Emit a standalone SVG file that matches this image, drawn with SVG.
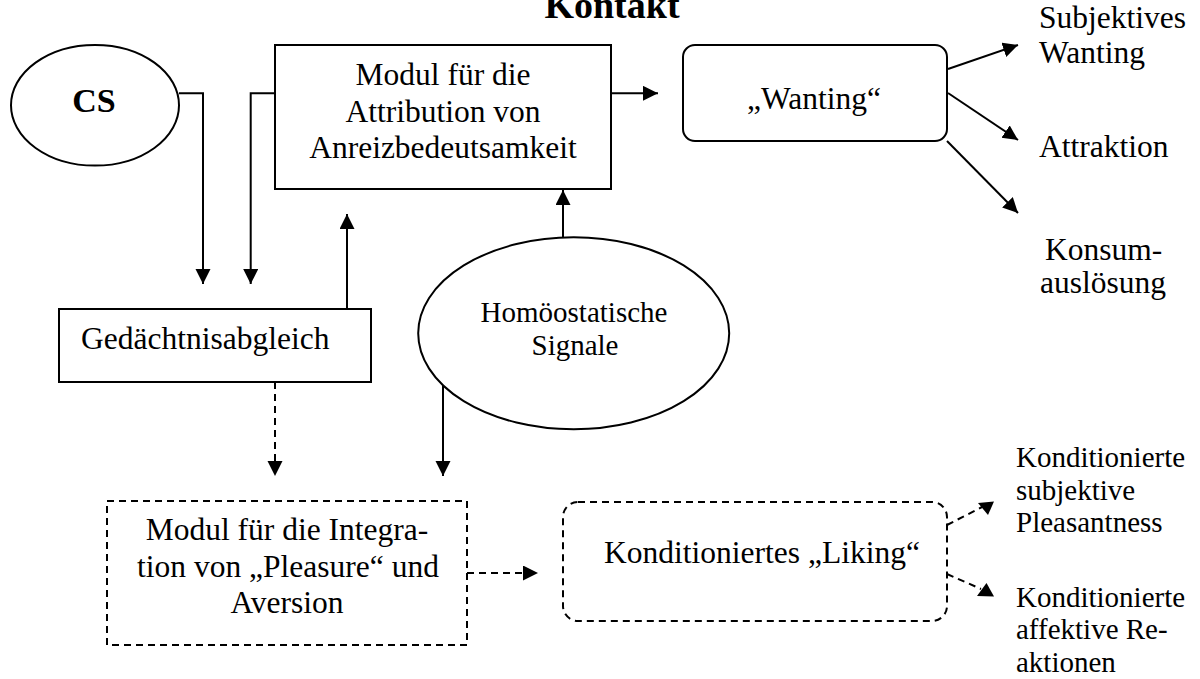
<svg xmlns="http://www.w3.org/2000/svg" width="1200" height="679" viewBox="0 0 1200 679">
<defs>
<style>
.t{font-family:"Liberation Serif","Times New Roman",serif;font-size:31.5px;fill:#000}
.s{font-size:29px}
.b{font-weight:bold}
.sh{fill:#fff;stroke:#000;stroke-width:2}
.dsh{fill:#fff;stroke:#000;stroke-width:2;stroke-dasharray:7 5}
.c{fill:none;stroke:#000;stroke-width:2}
.cd{fill:none;stroke:#000;stroke-width:2;stroke-dasharray:7 5}
.h{fill:#000}
</style>
<marker id="ah" markerUnits="userSpaceOnUse" markerWidth="16" markerHeight="16" refX="15" refY="7.5" orient="auto">
<path d="M0,0 L15,7.5 L0,15 z" fill="#000"/>
</marker>
</defs>
<rect width="1200" height="679" fill="#fff"/>
<text class="t b" x="612" y="18" text-anchor="middle" style="font-size:38px">Kontakt</text>

<g id="connectors">
<polyline class="c" points="179,93.3 203,93.3 203,284" marker-end="url(#ah)"/>
<polyline class="c" points="275,93.3 250.7,93.3 250.7,284" marker-end="url(#ah)"/>
<line class="c" x1="347" y1="309" x2="347" y2="214" marker-end="url(#ah)"/>
<line class="c" x1="563" y1="237" x2="563" y2="190" marker-end="url(#ah)"/>
<line class="c" x1="611" y1="93.3" x2="658" y2="93.3" marker-end="url(#ah)"/>
<line class="c" x1="948" y1="69" x2="1018" y2="45" marker-end="url(#ah)"/>
<line class="c" x1="948" y1="93" x2="1018" y2="140" marker-end="url(#ah)"/>
<line class="c" x1="947" y1="141" x2="1018" y2="213" marker-end="url(#ah)"/>
<line class="cd" x1="275" y1="382" x2="275" y2="476" marker-end="url(#ah)"/>
<line class="c" x1="443" y1="385" x2="443" y2="476" marker-end="url(#ah)"/>
<line class="cd" x1="467" y1="573" x2="538" y2="573" marker-end="url(#ah)"/>
<line class="cd" x1="947" y1="525" x2="982" y2="507"/>
<polygon class="h" points="978,503 994,501.5 988,515"/>
<line class="cd" x1="947" y1="574" x2="981" y2="589"/>
<polygon class="h" points="977,596 994,596.5 986.5,583"/>
</g>

<g id="cs">
<ellipse class="sh" cx="95" cy="105.3" rx="84" ry="60.3"/>
<text class="t b" x="94" y="112" text-anchor="middle" style="font-size:34px">CS</text>
</g>

<g id="attribution">
<rect class="sh" x="275" y="45" width="336" height="144"/>
<text class="t" x="443" y="85" text-anchor="middle">Modul für die</text>
<text class="t" x="443" y="122" text-anchor="middle">Attribution von</text>
<text class="t" x="443" y="158" text-anchor="middle">Anreizbedeutsamkeit</text>
</g>

<g id="wanting">
<rect class="sh" x="683" y="45" width="264" height="96" rx="12" ry="12"/>
<text class="t" x="814" y="109" text-anchor="middle">„Wanting“</text>
</g>

<g id="out-subjektives">
<text class="t" x="1039" y="28">Subjektives</text>
<text class="t" x="1039" y="63">Wanting</text>
</g>
<g id="out-attraktion">
<text class="t" x="1039" y="157">Attraktion</text>
</g>
<g id="out-konsum">
<text class="t" x="1045" y="260">Konsum-</text>
<text class="t" x="1040" y="293">auslösung</text>
</g>

<g id="gedaechtnis">
<rect class="sh" x="59" y="309" width="312" height="73"/>
<text class="t" x="81" y="349">Gedächtnisabgleich</text>
</g>

<g id="homoeostase">
<ellipse class="sh" cx="573.7" cy="333.3" rx="155.5" ry="96"/>
<text class="t s" x="574" y="322" text-anchor="middle">Homöostatische</text>
<text class="t s" x="575" y="355" text-anchor="middle">Signale</text>
</g>

<g id="integration">
<rect class="dsh" x="107" y="501" width="360" height="144"/>
<text class="t" x="287" y="540" text-anchor="middle">Modul für die Integra-</text>
<text class="t" x="288" y="577" text-anchor="middle">tion von „Pleasure“ und</text>
<text class="t" x="287" y="613" text-anchor="middle">Aversion</text>
</g>

<g id="liking">
<rect class="dsh" x="563" y="502" width="384" height="119" rx="15" ry="15"/>
<text class="t" x="762" y="563" text-anchor="middle">Konditioniertes „Liking“</text>
</g>

<g id="out-pleasantness">
<text class="t s" x="1016" y="467">Konditionierte</text>
<text class="t s" x="1016" y="500">subjektive</text>
<text class="t s" x="1016" y="532">Pleasantness</text>
</g>
<g id="out-reaktionen">
<text class="t s" x="1016" y="607">Konditionierte</text>
<text class="t s" x="1016" y="639">affektive Re-</text>
<text class="t s" x="1016" y="672">aktionen</text>
</g>
</svg>
